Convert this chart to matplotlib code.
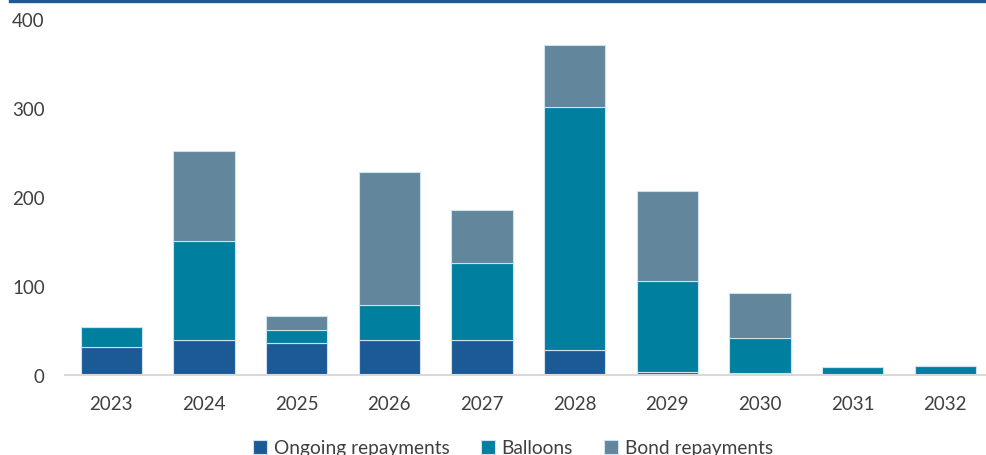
import numpy as np
import matplotlib.pyplot as plt

plt.rcParams['font.family'] = ['Lato', 'DejaVu Sans']

# Repayment profile by year
years = ['2023', '2024', '2025', '2026', '2027', '2028', '2029', '2030', '2031', '2032']
ongoing = [31, 39, 36, 39, 39, 28, 3, 2, 0, 0]
balloons = [22.5, 112, 14.5, 40, 87, 273, 103, 39.5, 9, 10]
bonds = [0, 100.5, 15.5, 149, 59, 70, 101, 50.5, 0, 0]

series = [('Ongoing repayments', ongoing, '#1c5a96'),
          ('Balloons', balloons, '#007f9f'),
          ('Bond repayments', bonds, '#62869c')]

fig = plt.figure(figsize=(9.87, 4.56), dpi=100)
ax = fig.add_axes([65/987, 80/456, 922/987, 356/456])

x = np.arange(len(years))
bottom = np.zeros(len(years))
handles = []
for name, vals, col in series:
    b = ax.bar(x, vals, 0.66, bottom=bottom, color=col, edgecolor='#cfe1ec',
               linewidth=0.8, label=name)
    handles.append(b)
    bottom += np.array(vals)

ax.set_xlim(-0.5, 9.45)
ax.set_ylim(0, 400)
ax.set_yticks([0, 100, 200, 300, 400])
ax.set_xticks(x)
ax.set_xticklabels(years)

for s in ['top', 'right', 'left']:
    ax.spines[s].set_visible(False)
ax.spines['bottom'].set_color('#d9d9d9')
ax.spines['bottom'].set_linewidth(1.5)
ax.tick_params(axis='both', length=0, labelsize=13.5, colors='#404040')
ax.tick_params(axis='x', pad=14.5)
ax.tick_params(axis='y', pad=14.5)

# blue rule along the top
fig.add_artist(plt.Line2D([10/987, 1], [1 - 1.5/456, 1 - 1.5/456],
                          color='#1c5a96', linewidth=2.4))

fig.legend(handles=handles, loc='center', bbox_to_anchor=(513/987, 1 - 449/456),
           ncol=3, frameon=False, fontsize=13.8, handlelength=0.75, handleheight=0.75,
           handletextpad=0.35, columnspacing=1.6, labelcolor='#404040')

plt.savefig('out.png', dpi=100)
